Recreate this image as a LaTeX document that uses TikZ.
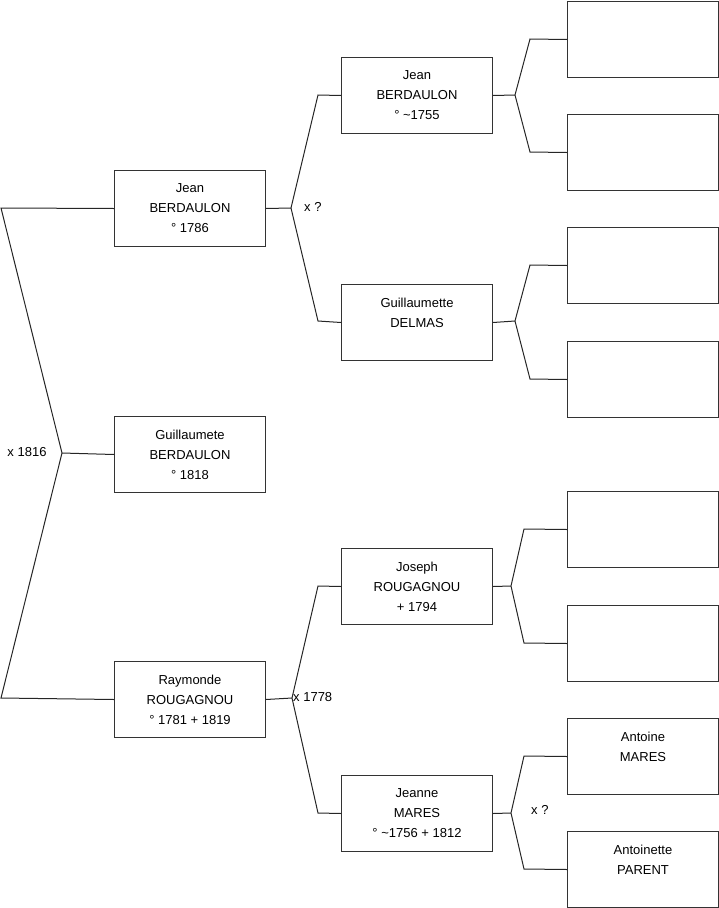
\documentclass[tikz,border=0pt]{standalone}
\usepackage{fontspec}
\setmainfont{Liberation Sans}
\begin{document}
\begin{tikzpicture}[x=1pt,y=-1pt,
  person/.style={draw=black!80, line width=1pt, minimum width=151pt, minimum height=76pt,
    align=center, font=\fontsize{13}{20}\selectfont, inner sep=0pt, anchor=north west},
  link/.style={line width=1pt, draw=black!85},
  lbl/.style={font=\fontsize{13}{15}\selectfont, inner sep=0pt}]
\useasboundingbox (0,0) rectangle (719,908);
% generation 1
\node[person] (g1a) at (114,170) {Jean\\BERDAULON\\° 1786};
\node[person] (g1b) at (114,416) {Guillaumete\\BERDAULON\\° 1818};
\node[person] (g1c) at (114,661) {Raymonde\\ROUGAGNOU\\° 1781 + 1819};
% generation 2
\node[person] (g2a) at (341,57) {Jean\\BERDAULON\\° \textasciitilde1755};
\node[person] (g2b) at (341,284) {Guillaumette\\DELMAS\\\mbox{}};
\node[person] (g2c) at (341,548) {Joseph\\ROUGAGNOU\\+ 1794};
\node[person] (g2d) at (341,775) {Jeanne\\MARES\\° \textasciitilde1756 + 1812};
% generation 3
\node[person] (g3a) at (567,1) {};
\node[person] (g3b) at (567,114) {};
\node[person] (g3c) at (567,227) {};
\node[person] (g3d) at (567,341) {};
\node[person] (g3e) at (567,491) {};
\node[person] (g3f) at (567,605) {};
\node[person] (g3g) at (567,718) {Antoine\\MARES\\\mbox{}};
\node[person] (g3h) at (567,831) {Antoinette\\PARENT\\\mbox{}};
% junction points
\coordinate (l1) at (1,208);
\coordinate (l2) at (1,698);
\coordinate (v0) at (62,453);
\coordinate (f1) at (291,208);
\coordinate (f1a) at (318,95);
\coordinate (f1b) at (318,321);
\coordinate (f2) at (292,698);
\coordinate (f2a) at (318,586);
\coordinate (f2b) at (318,813);
\coordinate (m1) at (515,95);
\coordinate (m1a) at (530,39);
\coordinate (m1b) at (530,152);
\coordinate (m2) at (515,321);
\coordinate (m2a) at (530,265);
\coordinate (m2b) at (530,379);
\coordinate (m3) at (511,586);
\coordinate (m3a) at (524,529);
\coordinate (m3b) at (524,643);
\coordinate (m4) at (511,813);
\coordinate (m4a) at (524,756);
\coordinate (m4b) at (524,869);
% connectors
\draw[link] (g1a.west) -- (l1) -- (v0) -- (l2) -- (g1c.west);
\draw[link] (v0) -- (g1b.west);
\draw[link] (g1a.east) -- (f1);
\draw[link] (g2a.west) -- (f1a) -- (f1) -- (f1b) -- (g2b.west);
\draw[link] (g1c.east) -- (f2);
\draw[link] (g2c.west) -- (f2a) -- (f2) -- (f2b) -- (g2d.west);
\draw[link] (g2a.east) -- (m1);
\draw[link] (g3a.west) -- (m1a) -- (m1) -- (m1b) -- (g3b.west);
\draw[link] (g2b.east) -- (m2);
\draw[link] (g3c.west) -- (m2a) -- (m2) -- (m2b) -- (g3d.west);
\draw[link] (g2c.east) -- (m3);
\draw[link] (g3e.west) -- (m3a) -- (m3) -- (m3b) -- (g3f.west);
\draw[link] (g2d.east) -- (m4);
\draw[link] (g3g.west) -- (m4a) -- (m4) -- (m4b) -- (g3h.west);
% labels
\node[lbl] (x1) at (27,452) {x 1816};
\node[lbl, anchor=west] (x2) at (304,207) {x ?};
\node[lbl, anchor=west] (x3) at (293,697) {x 1778};
\node[lbl, anchor=west] (x4) at (531,810) {x ?};
\end{tikzpicture}
\end{document}
